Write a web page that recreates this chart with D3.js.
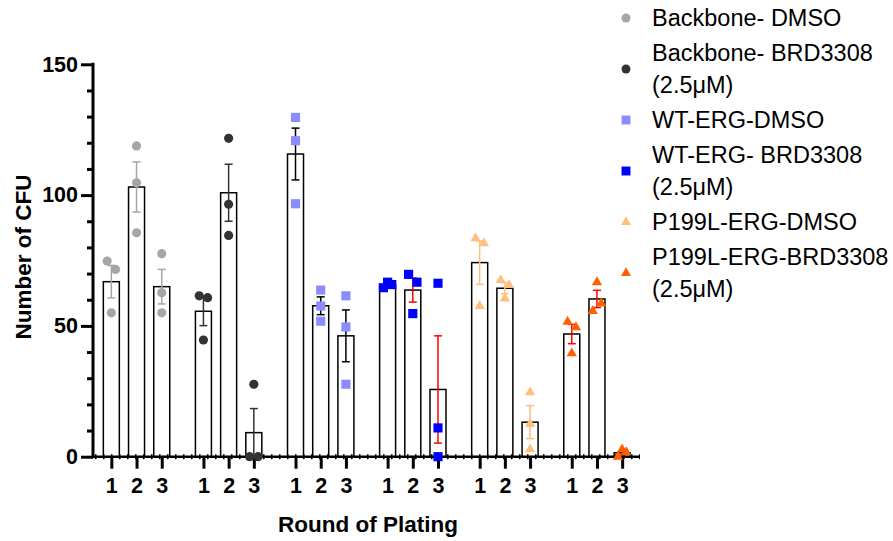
<!DOCTYPE html>
<html>
<head>
<meta charset="utf-8">
<script src="https://cdn.jsdelivr.net/npm/d3@7"></script>
<style>
  body { margin: 0; background: #fff; }
  svg { display: block; font-family: "Liberation Sans", Arial, Helvetica, sans-serif; }
</style>
</head>
<body>
<svg id="chart" width="893" height="541"></svg>
<script>
// ---- data ----
const groups = [
  "Backbone- DMSO",
  "Backbone- BRD3308 (2.5μM)",
  "WT-ERG-DMSO",
  "WT-ERG- BRD3308 (2.5μM)",
  "P199L-ERG-DMSO",
  "P199L-ERG-BRD3308 (2.5μM)"
];
const legendLines = [
  ["Backbone- DMSO"],
  ["Backbone- BRD3308", "(2.5μM)"],
  ["WT-ERG-DMSO"],
  ["WT-ERG- BRD3308", "(2.5μM)"],
  ["P199L-ERG-DMSO"],
  ["P199L-ERG-BRD3308", "(2.5μM)"]
];
const rounds = ["1", "2", "3"];

// mean CFU per group and round of plating
const means = [
  [66.9, 103.1, 65.0],
  [55.6, 100.9, 9.2],
  [115.7, 57.7, 46.2],
  [65.7, 63.7, 25.7],
  [74.2, 64.4, 13.2],
  [46.9, 60.3, 1.5]
];
// standard error of the mean
const sems = [
  [6.2, 9.6, 6.6],
  [5.5, 10.9, 9.2],
  [9.9, 3.4, 9.9],
  [0.6, 4.6, 20.5],
  [8.3, 2.1, 6.3],
  [3.7, 3.3, 0.8]
];
// individual replicate counts
const replicates = [
  [[74.8, 71.6, 55.0], [118.8, 104.7, 85.6], [77.6, 62.7, 55.0]],
  [[61.5, 60.8, 44.6], [121.7, 96.5, 84.6], [27.7, 0, 0]],
  [[129.7, 120.8, 96.7], [63.7, 57.6, 51.8], [61.5, 49.6, 27.7]],
  [[64.6, 66.7, 65.8], [69.7, 66.7, 54.7], [66.3, 11.0, 0]],
  [[83.5, 81.6, 57.6], [67.5, 65.6, 60.5], [24.6, 12.5, 2.8]],
  [[51.6, 49.5, 39.5], [66.7, 55.7, 58.6], [0, 2.8, 1.7]]
];
const yMajorTicks = [0, 50, 100, 150];
const yMinorTicks = [10, 20, 30, 40, 60, 70, 80, 90, 110, 120, 130, 140];

// ---- styling ----
const markerColors = ["#a6a6a6", "#333333", "#8c8cff", "#0000ff", "#ffbf80", "#ff6000"];
const errorColors  = ["#a6a6a6", "#333333", "#000000", "#ff0000", "#ffbf80", "#ff0000"];
const markerShapes = [d3.symbolCircle, d3.symbolCircle, d3.symbolSquare, d3.symbolSquare, d3.symbolTriangle, d3.symbolTriangle];
const markerSizes  = [66, 66, 84, 84, 46, 46];

const svg = d3.select("#chart");

// ---- scales ----
const y = d3.scaleLinear().domain([0, 150]).range([456.7, 64.3]);
const xGroup = d3.scaleBand().domain(groups).range([90.5, 643]).padding(0);
const xRound = d3.scaleBand().domain(rounds).range([0, xGroup.bandwidth()])
  .paddingInner(0.365).paddingOuter(0.51);
const barCenter = (g, r) => xGroup(groups[g]) + xRound(rounds[r]) + xRound.bandwidth() / 2;

// ---- bars ----
const cells = [];
groups.forEach((g, gi) => rounds.forEach((r, ri) => {
  cells.push({ gi, ri, mean: means[gi][ri], sem: sems[gi][ri], pts: replicates[gi][ri] });
}));

svg.append("g").selectAll("rect").data(cells).join("rect")
  .attr("x", d => xGroup(groups[d.gi]) + xRound(rounds[d.ri]))
  .attr("y", d => y(d.mean))
  .attr("width", xRound.bandwidth())
  .attr("height", d => y(0) - y(d.mean))
  .attr("fill", "#fff")
  .attr("stroke", "#000")
  .attr("stroke-width", 1.5);

// ---- error bars (mean ± SEM) ----
const capHalf = 4;
const eb = svg.append("g").selectAll("g").data(cells).join("g")
  .attr("stroke", d => errorColors[d.gi])
  .attr("stroke-width", 1.5)
  .attr("fill", "none");
eb.append("line")
  .attr("x1", d => barCenter(d.gi, d.ri)).attr("x2", d => barCenter(d.gi, d.ri))
  .attr("y1", d => y(Math.max(0, d.mean - d.sem))).attr("y2", d => y(d.mean + d.sem));
eb.append("line")
  .attr("x1", d => barCenter(d.gi, d.ri) - capHalf).attr("x2", d => barCenter(d.gi, d.ri) + capHalf)
  .attr("y1", d => y(d.mean + d.sem)).attr("y2", d => y(d.mean + d.sem));
eb.append("line")
  .attr("x1", d => barCenter(d.gi, d.ri) - capHalf).attr("x2", d => barCenter(d.gi, d.ri) + capHalf)
  .attr("y1", d => y(Math.max(0, d.mean - d.sem))).attr("y2", d => y(Math.max(0, d.mean - d.sem)));

// ---- y axis ----
const yAxisG = svg.append("g").attr("transform", "translate(93,0)");
yAxisG.call(d3.axisLeft(y).tickValues(yMajorTicks).tickSize(12).tickPadding(3).tickFormat(d3.format("d")));
yAxisG.select(".domain").remove();
yAxisG.selectAll(".tick line").attr("stroke", "#000").attr("stroke-width", 3);
yAxisG.selectAll(".tick text")
  .attr("font-size", 21.5).attr("font-weight", "bold").attr("fill", "#000")
  .attr("font-family", "Liberation Sans, Arial, sans-serif");
const yMinorG = svg.append("g").attr("transform", "translate(93,0)");
yMinorG.call(d3.axisLeft(y).tickValues(yMinorTicks).tickSize(6).tickFormat(""));
yMinorG.select(".domain").remove();
yMinorG.selectAll(".tick line").attr("stroke", "#000").attr("stroke-width", 3);
svg.append("line")
  .attr("x1", 93).attr("x2", 93).attr("y1", y(150) - 1.5).attr("y2", y(0) + 1.5)
  .attr("stroke", "#000").attr("stroke-width", 3);

// ---- x axis ----
const keys = [], keyPos = [];
groups.forEach((g, gi) => rounds.forEach((r, ri) => { keys.push(gi + "|" + r); keyPos.push(barCenter(gi, ri)); }));
const xTickScale = d3.scaleOrdinal().domain(keys).range(keyPos);
const xAxisG = svg.append("g").attr("transform", `translate(0,${y(0)})`);
xAxisG.call(d3.axisBottom(xTickScale).tickSize(12).tickPadding(9).tickFormat(k => k.split("|")[1]));
xAxisG.select(".domain").remove();
xAxisG.selectAll(".tick line").attr("stroke", "#000").attr("stroke-width", 3);
xAxisG.selectAll(".tick text")
  .attr("font-size", 21.5).attr("font-weight", "bold").attr("fill", "#000")
  .attr("font-family", "Liberation Sans, Arial, sans-serif");
// baseline with the dotted zero line laid over it
svg.append("line")
  .attr("x1", 92).attr("x2", 640).attr("y1", y(0)).attr("y2", y(0))
  .attr("stroke", "#000").attr("stroke-width", 2.5);
svg.append("line")
  .attr("x1", 95).attr("x2", 640).attr("y1", y(0)).attr("y2", y(0))
  .attr("stroke", "#000").attr("stroke-width", 5).attr("stroke-dasharray", "1.5,6.5");

// ---- replicate points, spread sideways where they overlap ----
const spread = 8.4, overlapPx = 10;
function dodge(values) {
  const order = values.map((v, i) => i).sort((a, b) => values[b] - values[a]);
  const clusters = [];
  order.forEach((i, k) => {
    if (k > 0 && Math.abs(y(values[i]) - y(values[order[k - 1]])) < overlapPx) {
      clusters[clusters.length - 1].push(i);
    } else clusters.push([i]);
  });
  const offs = new Array(values.length).fill(0);
  clusters.forEach(c => {
    c.sort((a, b) => a - b);
    const n = c.length;
    c.forEach((i, k) => { offs[i] = n > 1 ? -spread / 2 + spread * k / (n - 1) : 0; });
  });
  return offs;
}
const points = [];
cells.forEach(c => {
  const offs = dodge(c.pts);
  c.pts.forEach((v, i) => points.push({ gi: c.gi, x: barCenter(c.gi, c.ri) + offs[i], v }));
});
svg.append("g").selectAll("path").data(points).join("path")
  .attr("transform", d => `translate(${d.x},${y(d.v)})`)
  .attr("d", d => d3.symbol(markerShapes[d.gi], markerSizes[d.gi])())
  .attr("fill", d => markerColors[d.gi]);

// ---- axis titles ----
svg.append("text")
  .attr("transform", "translate(23,257) rotate(-90)")
  .attr("text-anchor", "middle").attr("dominant-baseline", "central")
  .attr("font-size", 22.5).attr("font-weight", "bold")
  .text("Number of CFU");
svg.append("text")
  .attr("x", (93 + 643) / 2).attr("y", 532)
  .attr("text-anchor", "middle")
  .attr("font-size", 22.5).attr("font-weight", "bold")
  .text("Round of Plating");

// ---- legend ----
const lineH = 32, entryGap = 3;
let cursor = 18;
const legend = svg.append("g");
legendLines.forEach((lines, gi) => {
  const first = cursor;
  const last = cursor + (lines.length - 1) * lineH;
  legend.append("path")
    .attr("transform", `translate(626,${(first + last) / 2})`)
    .attr("d", d3.symbol(markerShapes[gi], markerSizes[gi] * 0.95)())
    .attr("fill", markerColors[gi]);
  lines.forEach((t, li) => {
    legend.append("text")
      .attr("x", 652).attr("y", first + li * lineH)
      .attr("dominant-baseline", "central")
      .attr("font-size", 23.5)
      .attr("fill", "#000")
      .text(t);
  });
  cursor = last + lineH + entryGap;
});
</script>
</body>
</html>
